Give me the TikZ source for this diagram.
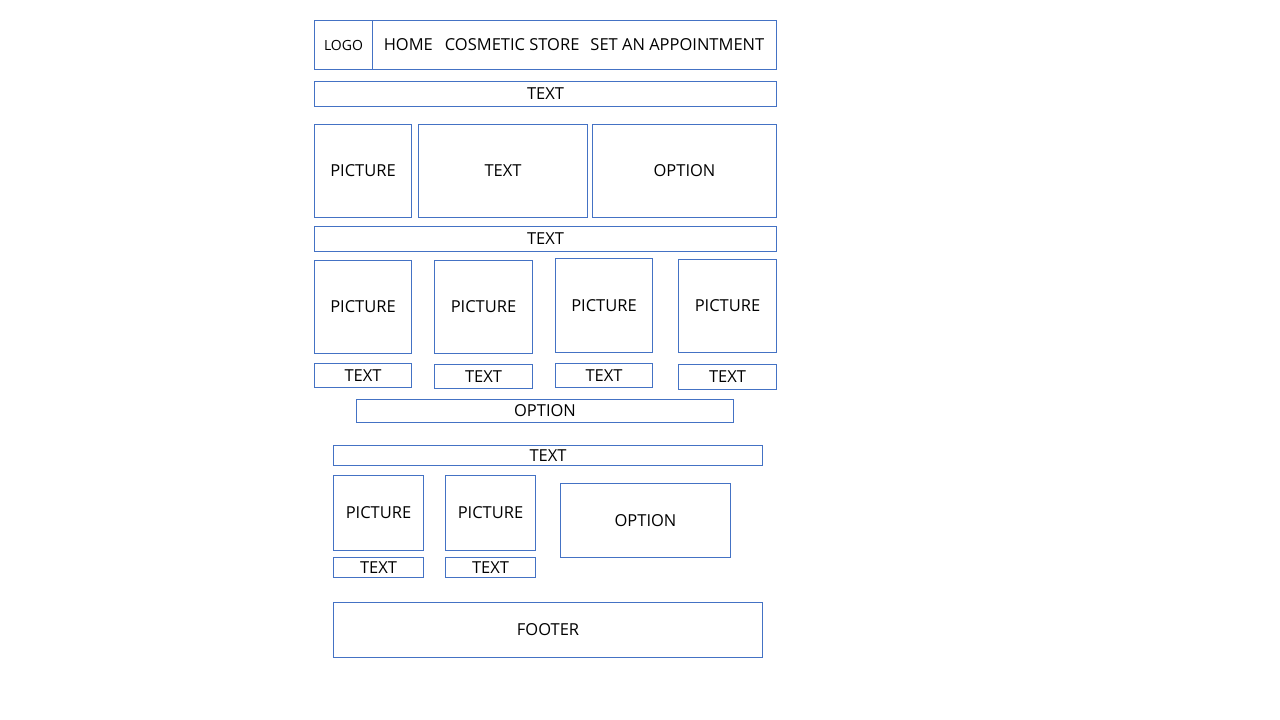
\documentclass[tikz,border=0pt]{standalone}
\usepackage{fontspec}
\setmainfont{Open Sans}
\usepackage{tikz}
\definecolor{wfblue}{HTML}{4472C4}

\begin{document}
\begin{tikzpicture}[x=1pt,y=-1pt]
\tikzstyle{cadre}=[draw=wfblue,line width=1pt,inner sep=0pt,anchor=north west,font=\fontsize{16.5}{19}\selectfont]
\tikzset{bloc/.style 2 args={cadre,minimum width=#1,minimum height=#2}}
\useasboundingbox (0,0) rectangle (1280,720);
\fill[white] (0,0) rectangle (1280,720);

% en-tete
\node[bloc={462pt}{49pt}] (entete) at (314,20) {};
\node[bloc={58pt}{49pt},font=\fontsize{14}{16}\selectfont] (logo) at (314,20) {LOGO};
\node[font=\fontsize{16.5}{19}\selectfont] (menu) at (574,44.5) {HOME\hspace{12pt}COSMETIC STORE\hspace{11pt}SET AN APPOINTMENT};

\node[bloc={462pt}{25pt}] (texte1) at (314,81) {TEXT};

\node[bloc={97pt}{93pt}] (image1) at (314,124) {PICTURE};
\node[bloc={169pt}{93pt}] (texte2) at (418,124) {TEXT};
\node[bloc={184pt}{93pt}] (option1) at (592,124) {OPTION};

\node[bloc={462pt}{25pt}] (texte3) at (314,226) {TEXT};

% galerie
\node[bloc={97pt}{93pt}] (image2) at (314,260) {PICTURE};
\node[bloc={98pt}{93pt}] (image3) at (434,260) {PICTURE};
\node[bloc={97pt}{94pt}] (image4) at (555,258) {PICTURE};
\node[bloc={98pt}{93pt}] (image5) at (678,259) {PICTURE};
\node[bloc={97pt}{24pt}] (texte4) at (314,363) {TEXT};
\node[bloc={98pt}{24pt}] (texte5) at (434,364) {TEXT};
\node[bloc={97pt}{24pt}] (texte6) at (555,363) {TEXT};
\node[bloc={98pt}{25pt}] (texte7) at (678,364) {TEXT};
\node[bloc={377pt}{23pt}] (option2) at (356,399) {OPTION};

% bas de page
\node[bloc={429pt}{20pt}] (texte8) at (333,445) {TEXT};
\node[bloc={90pt}{75pt}] (image6) at (333,475) {PICTURE};
\node[bloc={90pt}{75pt}] (image7) at (445,475) {PICTURE};
\node[bloc={90pt}{20pt}] (texte9) at (333,557) {TEXT};
\node[bloc={90pt}{20pt}] (texte10) at (445,557) {TEXT};
\node[bloc={170pt}{74pt}] (option3) at (560,483) {OPTION};
\node[bloc={429pt}{55pt}] (footer) at (333,602) {FOOTER};

\end{tikzpicture}
\end{document}
